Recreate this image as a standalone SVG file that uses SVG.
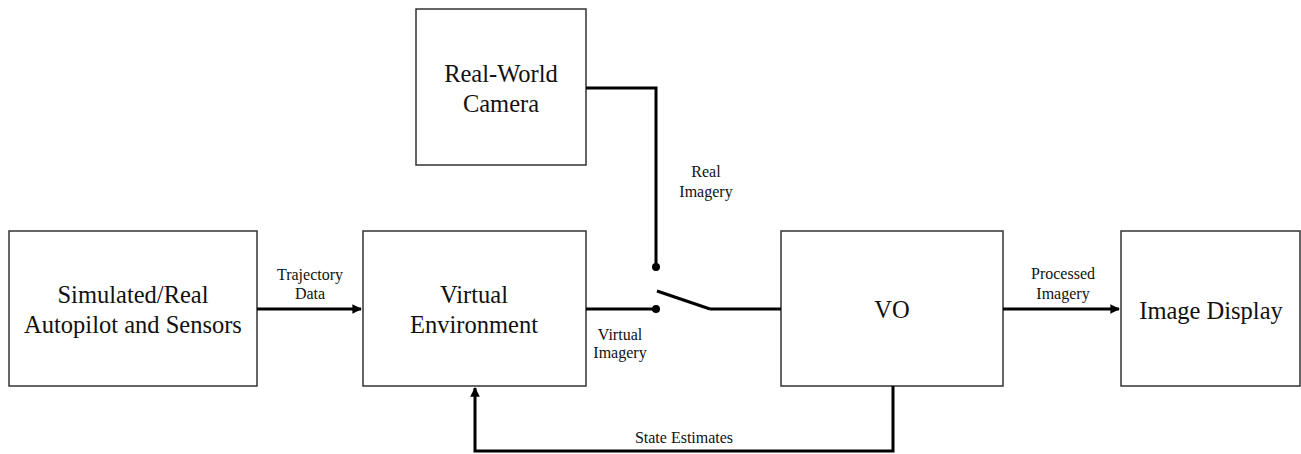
<svg xmlns="http://www.w3.org/2000/svg" width="1301" height="454" viewBox="0 0 1301 454">
<defs>
<style>
.box{fill:#fff;stroke:#333;stroke-width:1.5}
.big{font-family:"Liberation Serif","Times New Roman",serif;font-size:24.5px;fill:#111;text-anchor:middle}
.small{font-family:"Liberation Serif","Times New Roman",serif;font-size:16px;fill:#111;text-anchor:middle}
.wire{fill:none;stroke:#000;stroke-width:3}
</style>
<marker id="arr" viewBox="0 0 10 10" refX="9" refY="5" markerWidth="3.2" markerHeight="3.2" orient="auto" markerUnits="strokeWidth">
<path d="M0,0 L10,5 L0,10 z" fill="#000"/>
</marker>
</defs>
<rect width="1301" height="454" fill="#fff"/>
<g id="node-autopilot">
<rect class="box" x="9" y="231" width="248" height="155"/>
<text class="big" x="133" y="303">Simulated/Real</text>
<text class="big" x="133" y="333">Autopilot and Sensors</text>
</g>
<g id="node-virtual-env">
<rect class="box" x="363" y="231" width="223" height="155"/>
<text class="big" x="474" y="303">Virtual</text>
<text class="big" x="474" y="333">Environment</text>
</g>
<g id="node-camera">
<rect class="box" x="416" y="9" width="170" height="156"/>
<text class="big" x="501" y="82">Real-World</text>
<text class="big" x="501" y="112">Camera</text>
</g>
<g id="node-vo">
<rect class="box" x="781" y="231" width="222" height="155"/>
<text class="big" x="892" y="318">VO</text>
</g>
<g id="node-display">
<rect class="box" x="1121" y="231" width="179" height="155"/>
<text class="big" x="1211" y="319">Image Display</text>
</g>
<g id="connectors">
<line class="wire" x1="257" y1="309" x2="361" y2="309" marker-end="url(#arr)"/>
<line class="wire" x1="1003" y1="309" x2="1119" y2="309" marker-end="url(#arr)"/>
<polyline class="wire" points="586,88 656,88 656,267"/>
<circle cx="656" cy="267" r="4" fill="#000"/>
<line class="wire" x1="586" y1="309" x2="656" y2="309"/>
<circle cx="656" cy="309" r="4" fill="#000"/>
<line class="wire" x1="657" y1="291" x2="710" y2="309"/>
<line class="wire" x1="710" y1="309" x2="781" y2="309"/>
<polyline class="wire" points="893,386 893,451 475,451 475,388" marker-end="url(#arr)"/>
<text class="small" x="310" y="280">Trajectory</text>
<text class="small" x="310" y="299">Data</text>
<text class="small" x="706" y="177">Real</text>
<text class="small" x="706" y="197">Imagery</text>
<text class="small" x="620" y="340">Virtual</text>
<text class="small" x="620" y="358">Imagery</text>
<text class="small" x="1063" y="279">Processed</text>
<text class="small" x="1063" y="299">Imagery</text>
<text class="small" x="684" y="443">State Estimates</text>
</g>
</svg>
